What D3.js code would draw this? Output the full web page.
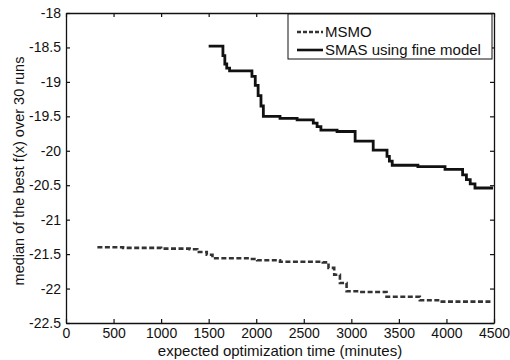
<!DOCTYPE html>
<html>
<head>
<meta charset="utf-8">
<script src="https://cdn.jsdelivr.net/npm/d3@7"></script>
<style>
  body { margin: 0; background: #fff; }
  svg { font-family: "Liberation Sans", Arial, sans-serif; }
</style>
</head>
<body>
<svg width="510" height="360"></svg>
<script>
// step data (time in minutes, median best f(x))
const msmoTime = [330, 600, 1000, 1300, 1380, 1480, 1540, 1940, 2010, 2250, 2700, 2760, 2820, 2880, 2950, 3090, 3370, 3720, 3930, 4480];
const msmoVal  = [-21.40, -21.41, -21.42, -21.43, -21.47, -21.51, -21.56, -21.57, -21.59, -21.61, -21.62, -21.70, -21.80, -21.92, -22.04, -22.05, -22.12, -22.17, -22.19, -22.19];

const smasTime = [1500, 1650, 1670, 1690, 1720, 1955, 1990, 2020, 2050, 2075, 2250, 2430, 2600, 2640, 2680, 2850, 3040, 3230, 3375, 3400, 3430, 3700, 3985, 4170, 4210, 4250, 4300, 4490];
const smasVal  = [-18.48, -18.62, -18.74, -18.8, -18.84, -18.92, -19.05, -19.2, -19.35, -19.5, -19.53, -19.55, -19.6, -19.65, -19.70, -19.72, -19.86, -19.99, -20.08, -20.15, -20.21, -20.23, -20.27, -20.35, -20.42, -20.48, -20.54, -20.54];

const xTicks = [0, 500, 1000, 1500, 2000, 2500, 3000, 3500, 4000, 4500];
const yTicks = [-18, -18.5, -19, -19.5, -20, -20.5, -21, -21.5, -22, -22.5];

const seriesNames = ["MSMO", "SMAS using fine model"];

const m = { left: 66, right: 494, top: 13, bottom: 323 };
const svg = d3.select("svg");

const x = d3.scaleLinear().domain([0, 4500]).range([m.left, m.right]);
const y = d3.scaleLinear().domain([-22.5, -18]).range([m.bottom, m.top]);

// axes, matlab style: ticks inward on all four sides
const tickLen = 4;
svg.append("g")
    .attr("transform", `translate(0,${m.bottom})`)
    .call(d3.axisBottom(x).tickValues(xTicks).tickSizeInner(-tickLen).tickSizeOuter(0).tickPadding(5).tickFormat(d3.format("d")));
svg.append("g")
    .attr("transform", `translate(0,${m.top})`)
    .call(d3.axisTop(x).tickValues(xTicks).tickSizeInner(-tickLen).tickSizeOuter(0).tickFormat(""));
svg.append("g")
    .attr("transform", `translate(${m.left},0)`)
    .call(d3.axisLeft(y).tickValues(yTicks).tickSizeInner(-tickLen).tickSizeOuter(0).tickPadding(5).tickFormat(d => d));
svg.append("g")
    .attr("transform", `translate(${m.right},0)`)
    .call(d3.axisRight(y).tickValues(yTicks).tickSizeInner(-tickLen).tickSizeOuter(0).tickFormat(""));

svg.selectAll(".domain").attr("stroke", "#111").attr("stroke-width", 1.3);
svg.selectAll(".tick line").attr("stroke", "#111").attr("stroke-width", 1.2);
svg.selectAll(".tick text").attr("font-size", 14).attr("fill", "#111")
    .attr("font-family", "Liberation Sans, Arial, sans-serif");

// the step lines
const line = d3.line()
    .x(d => x(d[0]))
    .y(d => y(d[1]))
    .curve(d3.curveStepAfter);

const msmo = msmoTime.map((t, i) => [t, msmoVal[i]]);
const smas = smasTime.map((t, i) => [t, smasVal[i]]);

svg.append("path")
    .datum(msmo)
    .attr("d", line)
    .attr("fill", "none")
    .attr("stroke", "#333")
    .attr("stroke-width", 2.6)
    .attr("stroke-dasharray", "5,2.5");

svg.append("path")
    .datum(smas)
    .attr("d", line)
    .attr("fill", "none")
    .attr("stroke", "#111")
    .attr("stroke-width", 2.8);

// legend
const lg = svg.append("g");
lg.append("rect")
    .attr("x", 288).attr("y", 14)
    .attr("width", 204).attr("height", 45)
    .attr("fill", "#fff").attr("stroke", "#111").attr("stroke-width", 1);

seriesNames.forEach((name, i) => {
    const cy = 32 + i * 18;
    lg.append("line")
        .attr("x1", 297).attr("x2", 323)
        .attr("y1", cy).attr("y2", cy)
        .attr("stroke", i === 0 ? "#333" : "#111")
        .attr("stroke-width", 2.6)
        .attr("stroke-dasharray", i === 0 ? "4,2" : null);
    lg.append("text")
        .attr("x", 325).attr("y", cy)
        .attr("dy", "0.35em")
        .attr("font-size", 15)
        .attr("fill", "#111")
        .text(name);
});

// axis titles
svg.append("text")
    .attr("x", 280)
    .attr("y", 356)
    .attr("text-anchor", "middle")
    .attr("font-size", 15)
    .attr("fill", "#111")
    .text("expected optimization time (minutes)");

svg.append("text")
    .attr("transform", `translate(24,171) rotate(-90)`)
    .attr("text-anchor", "middle")
    .attr("font-size", 14.5)
    .attr("fill", "#111")
    .text("median of the best f(x) over 30 runs");
</script>
</body>
</html>
